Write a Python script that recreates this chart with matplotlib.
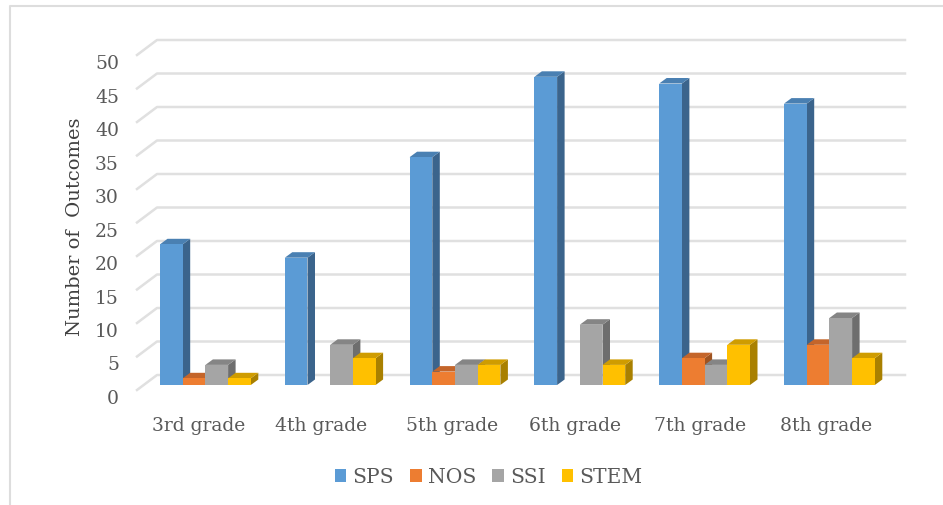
import matplotlib
matplotlib.use("Agg")
import matplotlib.pyplot as plt
from matplotlib.patches import Polygon, Patch
from matplotlib.transforms import ScaledTranslation

grades = ["3rd grade", "4th grade", "5th grade", "6th grade", "7th grade", "8th grade"]
series_names = ["SPS", "NOS", "SSI", "STEM"]
sps = [21, 19, 34, 46, 45, 42]
nos = [1, 0, 2, 0, 4, 6]
ssi = [3, 6, 3, 9, 3, 10]
stem = [1, 4, 3, 3, 6, 4]
y_ticks = [0, 5, 10, 15, 20, 25, 30, 35, 40, 45, 50]
front_colors = ["#5B9BD5", "#ED7D31", "#A5A5A5", "#FFC000"]
side_colors = ["#3B648C", "#9E5321", "#6E6E6E", "#A98000"]
top_colors = ["#4A80B2", "#C4652A", "#858585", "#CF9C00"]
label_nudges_px = [-7, -9, -3, -5, -5, -3]

W, H = 943, 506
DPI = 100
TEXT = "#595959"
plt.rcParams["font.family"] = ["DejaVu Serif"]
fig = plt.figure(figsize=(W / DPI, H / DPI), dpi=DPI)
L, R, Y0, Y50 = 137, 905, 386, 51
ax = fig.add_axes([L / W, 1 - Y0 / H, (R - L) / W, (Y0 - Y50) / H])
xlim = ((L - 205.4) / 124.8, (R - 205.4) / 124.8)
ax.set_xlim(*xlim)
ax.set_ylim(0, 50)
for s in ax.spines.values():
    s.set_visible(False)
ax.set_facecolor("none")

px_x = 1 / 124.8
px_y = 50 / (Y0 - Y50)

# back wall gridlines and floor stubs
x0 = xlim[0]
for v in y_ticks:
    xs = [x0, x0 + 20 * px_x, x0 + (R - L) * px_x]
    ys = [v - 5 * px_y, v + 10 * px_y, v + 10 * px_y]
    ax.plot(xs, ys, color="#E0E0E0", lw=1.8, clip_on=False, zorder=1, solid_joinstyle="round")

bw = 22.7 * px_x
dx = 7.5 * px_x
dy = 5.5 * px_y
z = 2
values = [sps, nos, ssi, stem]
for i in range(len(grades)):
    for k, vals in enumerate(values):
        v = vals[i]
        if v == 0:
            continue
        left = i - 2 * bw + k * bw
        right = left + bw
        ax.add_patch(Polygon([(right, 0), (right + dx, dy), (right + dx, v + dy), (right, v)],
                             closed=True, fc=side_colors[k], ec="none", zorder=z, clip_on=False))
        ax.add_patch(Polygon([(left, v), (left + dx, v + dy), (right + dx, v + dy), (right, v)],
                             closed=True, fc=top_colors[k], ec="none", zorder=z, clip_on=False))
        ax.bar(left, v, width=bw, align="edge", color=front_colors[k], zorder=z + 0.5, clip_on=False)
        z += 1
ax.set_xlim(*xlim)
ax.set_ylim(0, 50)

ax.set_yticks(y_ticks)
ax.set_yticklabels([str(t) for t in y_ticks])
ax.set_xticks(range(len(grades)))
ax.set_xticklabels(grades)
ax.tick_params(axis="y", length=0, pad=13, labelsize=13.5, labelcolor=TEXT)
ax.tick_params(axis="x", length=0, pad=22, labelsize=13.5, labelcolor=TEXT)
shift_y = ScaledTranslation(0, -11 / DPI, fig.dpi_scale_trans)
for lab in ax.get_yticklabels():
    lab.set_transform(lab.get_transform() + shift_y)
for lab, nudge in zip(ax.get_xticklabels(), label_nudges_px):
    lab.set_transform(lab.get_transform() + ScaledTranslation(nudge / DPI, 0, fig.dpi_scale_trans))

fig.text(75 / W, 1 - 227 / H, "Number of  Outcomes", rotation=90, ha="center", va="center",
         fontsize=14, color="#404040")

handles = [Patch(fc=c, ec="none", label=n) for c, n in zip(front_colors, series_names)]
leg = fig.legend(handles=handles, loc="center", bbox_to_anchor=(488.5 / W, 1 - 478 / H), ncol=4, frameon=False,
                 fontsize=14.6, handlelength=0.58, handleheight=0.58, handletextpad=0.29, columnspacing=0.8,
                 labelcolor=TEXT, borderpad=0, borderaxespad=0)

# outer chart frame
fig.add_artist(plt.Line2D([9.5 / W, 9.5 / W, 943 / W], [0, 1 - 6.7 / H, 1 - 6.7 / H], color="#DDDDDD", lw=1.5))

fig.savefig("out.png", dpi=DPI)
